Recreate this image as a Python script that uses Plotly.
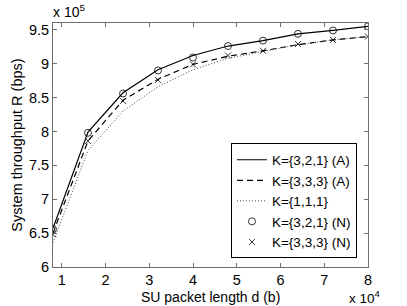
import plotly.graph_objects as go

# packet length d, in units of 1e4 bits
d = [0.8, 1.6, 2.4, 3.2, 4.0, 4.8, 5.6, 6.4, 7.2, 8.0]

# throughput R, in units of 1e5 bps
r_321_a = [6.57, 7.99, 8.57, 8.91, 9.12, 9.26, 9.34, 9.44, 9.49, 9.55]
r_333_a = [6.50, 7.86, 8.46, 8.77, 8.99, 9.11, 9.19, 9.28, 9.35, 9.40]
r_111 = [6.36, 7.72, 8.30, 8.66, 8.91, 9.08, 9.18, 9.28, 9.35, 9.40]
r_321_n = [6.56, 7.98, 8.56, 8.90, 9.09, 9.26, 9.34, 9.44, 9.49, 9.55]
r_333_n = [6.48, 7.86, 8.45, 8.76, 8.99, 9.12, 9.19, 9.29, 9.35, 9.40]

FONT = "Liberation Sans, Arial, sans-serif"
AXIS = "#6e6e6e"

fig = go.Figure()
fig.add_trace(go.Scatter(x=d, y=r_321_a, mode="lines", name="K={3,2,1} (A)",
                         line=dict(color="black", width=1.2)))
fig.add_trace(go.Scatter(x=d, y=r_333_a, mode="lines", name="K={3,3,3} (A)",
                         line=dict(color="black", width=1.2, dash="6px,4px")))
fig.add_trace(go.Scatter(x=d, y=r_111, mode="lines", name="K={1,1,1}",
                         line=dict(color="#444", width=1, dash="1px,2px")))
fig.add_trace(go.Scatter(x=d, y=r_321_n, mode="markers", name="K={3,2,1} (N)",
                         marker=dict(symbol="circle-open", size=7, color="black", line=dict(width=0.8))))
fig.add_trace(go.Scatter(x=d, y=r_333_n, mode="markers", name="K={3,3,3} (N)",
                         marker=dict(symbol="x-thin-open", size=6, color="black", line=dict(width=0.8))))

axis_style = dict(showline=True, linecolor=AXIS, linewidth=1, mirror="ticks", ticks="inside",
                  ticklen=4, tickcolor=AXIS, showgrid=False, zeroline=False, automargin=False,
                  tickfont=dict(family=FONT, size=14.5, color="black"))

fig.update_xaxes(range=[0.8, 8.0], tick0=1, dtick=1, **axis_style)
fig.update_yaxes(range=[6, 9.6], tick0=6, dtick=0.5, **axis_style,
                 title=dict(text="System throughput R (bps)", font=dict(family=FONT, size=14.5, color="black"), standoff=2))

# x title placed by hand, a little closer to the ticks than plotly allows
fig.add_annotation(text="SU packet length d (b)", xref="paper", yref="paper", x=0.5, y=0,
                   xanchor="center", yanchor="middle", showarrow=False, yshift=-30,
                   font=dict(family=FONT, size=14, color="black"))
fig.add_annotation(text="x 10<sup>5</sup>", xref="paper", yref="paper", x=0.0, y=1.0,
                   xanchor="left", yanchor="bottom", showarrow=False, yshift=1, xshift=-2,
                   font=dict(family=FONT, size=14, color="black"))
fig.add_annotation(text="x 10<sup>4</sup>", xref="paper", yref="paper", x=1.0, y=0,
                   xanchor="right", yanchor="top", showarrow=False, yshift=-19, xshift=14,
                   font=dict(family=FONT, size=13.5, color="black"))

fig.update_layout(
    width=407, height=306,
    margin=dict(l=53, r=39, t=23, b=39),
    paper_bgcolor="white", plot_bgcolor="white",
    font=dict(family=FONT, size=14, color="black"),
    showlegend=True,
    legend=dict(x=0.965, y=0.035, xanchor="right", yanchor="bottom",
                bordercolor="black", borderwidth=1, bgcolor="white",
                font=dict(family=FONT, size=13.5, color="black"),
                tracegroupgap=0, itemwidth=30),
)

fig.write_html("out.html", config={"displayModeBar": False},
               post_script="document.body.style.margin='0';")
